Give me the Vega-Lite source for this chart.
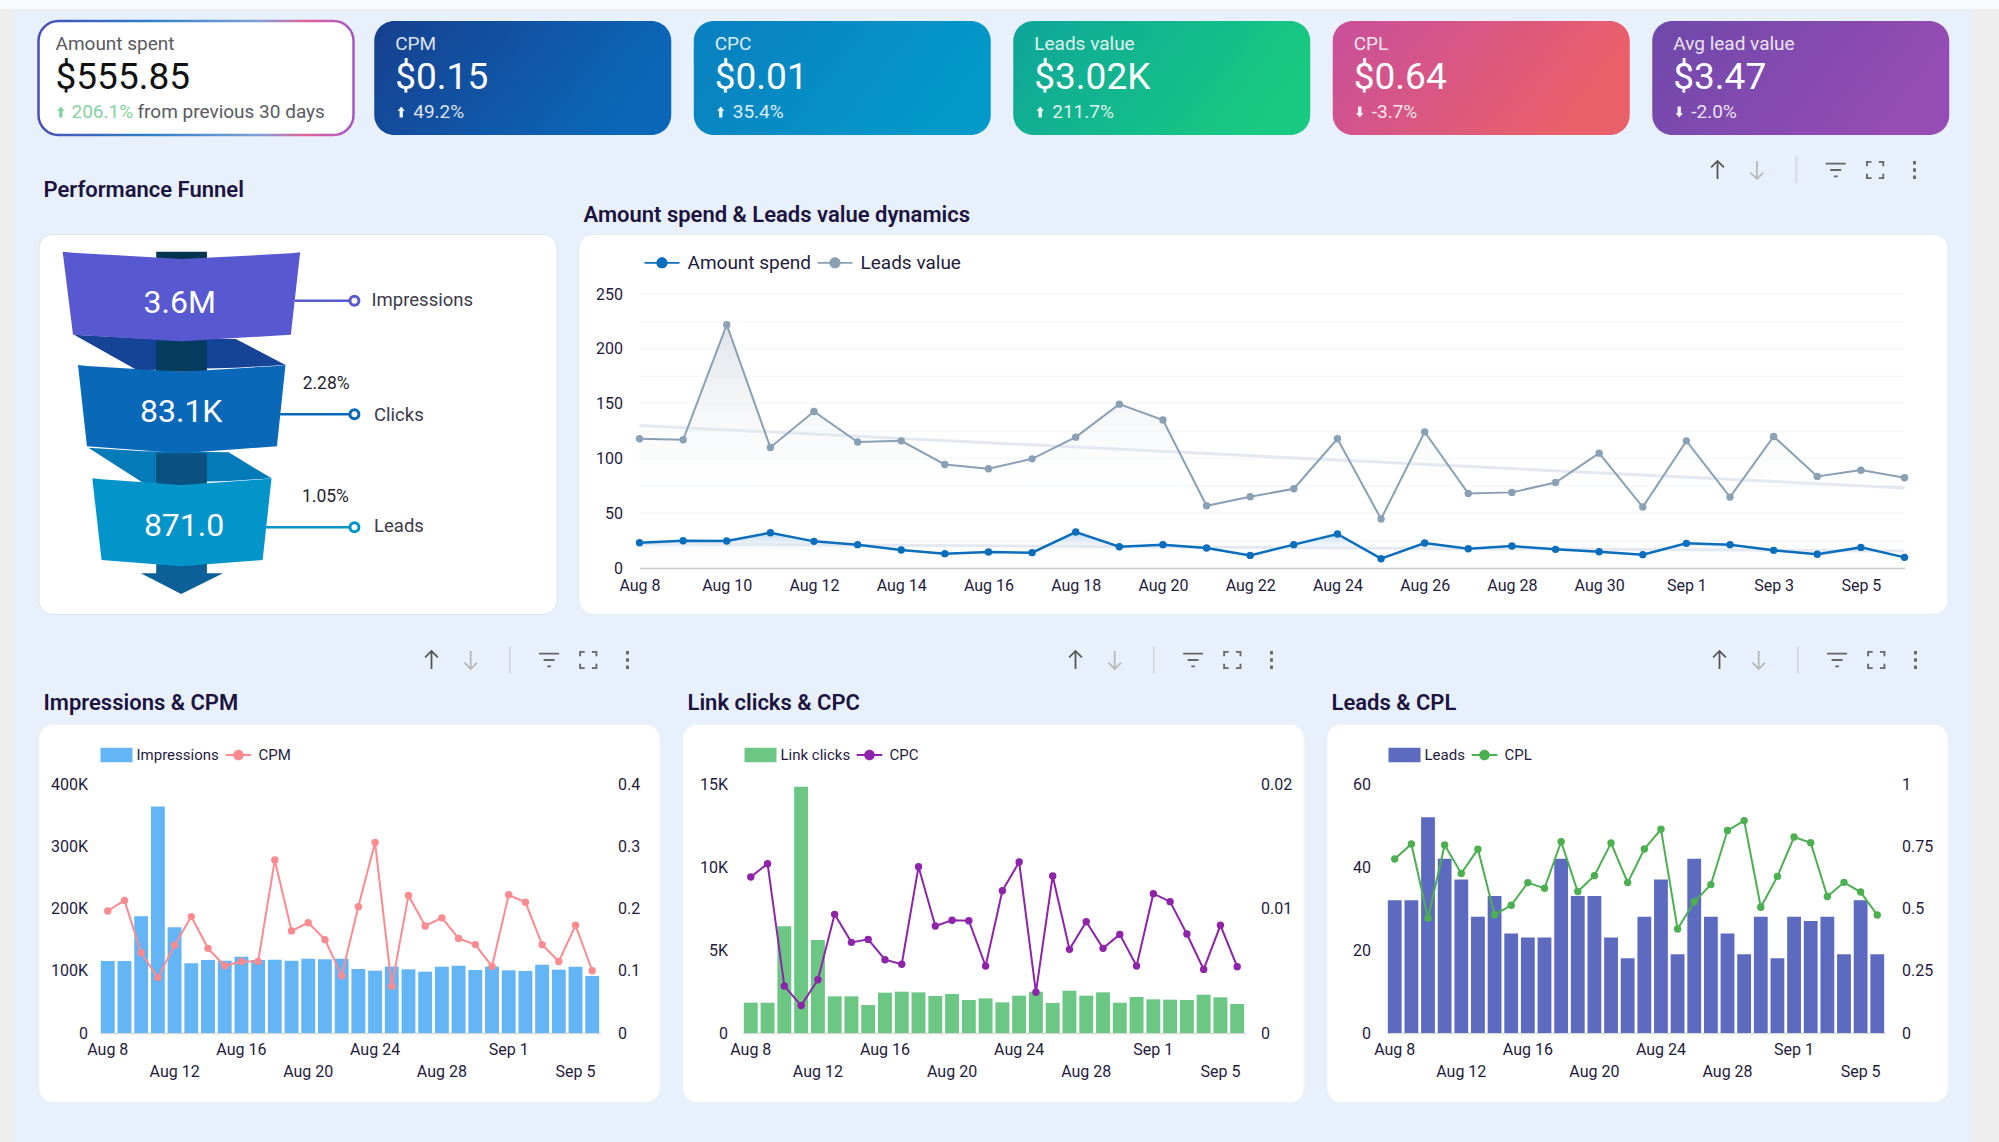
{
  "$schema": "https://vega.github.io/schema/vega-lite/v6.json",
  "padding": 0,
  "autosize": {"type": "pad"},
  "background": "#e8f1fb",
  "config": {
    "font": "Roboto",
    "view": {"stroke": null},
    "axis": {"labelFont": "Roboto", "labelColor": "#1f1b3d", "title": null, "grid": false, "ticks": false, "domain": false},
    "legend": {"labelFont": "Roboto", "labelColor": "#1f1b3d"}
  },
  "datasets": {
    "daily": [
      {"day": "Aug 8", "amount": 23.1, "leads_value": 117.9, "impressions": 115700, "cpm": 0.196, "link_clicks": 1827, "cpc": 0.01253, "leads": 32, "cpl": 0.699},
      {"day": "Aug 9", "amount": 24.9, "leads_value": 117, "impressions": 115700, "cpm": 0.213, "link_clicks": 1827, "cpc": 0.0136, "leads": 32, "cpl": 0.759},
      {"day": "Aug 10", "amount": 24.6, "leads_value": 222, "impressions": 187400, "cpm": 0.129, "link_clicks": 6426, "cpc": 0.00378, "leads": 52, "cpl": 0.461},
      {"day": "Aug 11", "amount": 32.2, "leads_value": 110, "impressions": 364000, "cpm": 0.089, "link_clicks": 14839, "cpc": 0.0022, "leads": 42, "cpl": 0.755},
      {"day": "Aug 12", "amount": 24.3, "leads_value": 142.8, "impressions": 169700, "cpm": 0.141, "link_clicks": 5602, "cpc": 0.00428, "leads": 37, "cpl": 0.641},
      {"day": "Aug 13", "amount": 21.3, "leads_value": 115, "impressions": 112000, "cpm": 0.187, "link_clicks": 2209, "cpc": 0.00953, "leads": 28, "cpl": 0.738},
      {"day": "Aug 14", "amount": 16.4, "leads_value": 116, "impressions": 117300, "cpm": 0.136, "link_clicks": 2209, "cpc": 0.00728, "leads": 33, "cpl": 0.475},
      {"day": "Aug 15", "amount": 13.1, "leads_value": 94.5, "impressions": 116200, "cpm": 0.108, "link_clicks": 1687, "cpc": 0.00752, "leads": 24, "cpl": 0.513},
      {"day": "Aug 16", "amount": 14.6, "leads_value": 90.5, "impressions": 122600, "cpm": 0.115, "link_clicks": 2430, "cpc": 0.00589, "leads": 23, "cpl": 0.604},
      {"day": "Aug 17", "amount": 14, "leads_value": 99.6, "impressions": 117300, "cpm": 0.115, "link_clicks": 2490, "cpc": 0.00552, "leads": 23, "cpl": 0.581},
      {"day": "Aug 18", "amount": 32.8, "leads_value": 119.4, "impressions": 117800, "cpm": 0.278, "link_clicks": 2450, "cpc": 0.01336, "leads": 42, "cpl": 0.768},
      {"day": "Aug 19", "amount": 19.4, "leads_value": 149.5, "impressions": 116200, "cpm": 0.164, "link_clicks": 2229, "cpc": 0.00859, "leads": 33, "cpl": 0.568},
      {"day": "Aug 20", "amount": 21.3, "leads_value": 135, "impressions": 119400, "cpm": 0.177, "link_clicks": 2349, "cpc": 0.00905, "leads": 33, "cpl": 0.632},
      {"day": "Aug 21", "amount": 18.2, "leads_value": 56.8, "impressions": 118300, "cpm": 0.15, "link_clicks": 1988, "cpc": 0.00902, "leads": 23, "cpl": 0.763},
      {"day": "Aug 22", "amount": 11.5, "leads_value": 65, "impressions": 119400, "cpm": 0.092, "link_clicks": 2088, "cpc": 0.00538, "leads": 18, "cpl": 0.604},
      {"day": "Aug 23", "amount": 21.3, "leads_value": 72.3, "impressions": 102800, "cpm": 0.203, "link_clicks": 1847, "cpc": 0.01143, "leads": 28, "cpl": 0.739},
      {"day": "Aug 24", "amount": 31, "leads_value": 117.9, "impressions": 100100, "cpm": 0.306, "link_clicks": 2249, "cpc": 0.01373, "leads": 37, "cpl": 0.818},
      {"day": "Aug 25", "amount": 8.5, "leads_value": 44.7, "impressions": 107000, "cpm": 0.075, "link_clicks": 2490, "cpc": 0.00327, "leads": 19, "cpl": 0.418},
      {"day": "Aug 26", "amount": 22.8, "leads_value": 124.2, "impressions": 102300, "cpm": 0.221, "link_clicks": 1807, "cpc": 0.01261, "leads": 42, "cpl": 0.527},
      {"day": "Aug 27", "amount": 17.6, "leads_value": 68, "impressions": 98500, "cpm": 0.172, "link_clicks": 2550, "cpc": 0.00672, "leads": 28, "cpl": 0.596},
      {"day": "Aug 28", "amount": 20, "leads_value": 69, "impressions": 106500, "cpm": 0.185, "link_clicks": 2249, "cpc": 0.00894, "leads": 24, "cpl": 0.813},
      {"day": "Aug 29", "amount": 17, "leads_value": 78, "impressions": 108000, "cpm": 0.152, "link_clicks": 2450, "cpc": 0.0068, "leads": 19, "cpl": 0.853},
      {"day": "Aug 30", "amount": 14.9, "leads_value": 104.8, "impressions": 101200, "cpm": 0.142, "link_clicks": 1827, "cpc": 0.00792, "leads": 28, "cpl": 0.505},
      {"day": "Aug 31", "amount": 12.2, "leads_value": 55.6, "impressions": 107000, "cpm": 0.107, "link_clicks": 2169, "cpc": 0.00538, "leads": 18, "cpl": 0.629},
      {"day": "Sep 1", "amount": 22.5, "leads_value": 116, "impressions": 100700, "cpm": 0.222, "link_clicks": 2028, "cpc": 0.01119, "leads": 28, "cpl": 0.787},
      {"day": "Sep 2", "amount": 21.3, "leads_value": 64.7, "impressions": 99600, "cpm": 0.21, "link_clicks": 2008, "cpc": 0.01055, "leads": 27, "cpl": 0.764},
      {"day": "Sep 3", "amount": 16.1, "leads_value": 120, "impressions": 109800, "cpm": 0.142, "link_clicks": 1988, "cpc": 0.00795, "leads": 28, "cpl": 0.548},
      {"day": "Sep 4", "amount": 12.5, "leads_value": 83.5, "impressions": 101700, "cpm": 0.115, "link_clicks": 2309, "cpc": 0.00511, "leads": 19, "cpl": 0.605},
      {"day": "Sep 5", "amount": 18.8, "leads_value": 89.3, "impressions": 106500, "cpm": 0.173, "link_clicks": 2149, "cpc": 0.00865, "leads": 32, "cpl": 0.566},
      {"day": "Sep 6", "amount": 9.7, "leads_value": 82.3, "impressions": 91600, "cpm": 0.1, "link_clicks": 1747, "cpc": 0.00533, "leads": 19, "cpl": 0.474}
    ],
    "trend": [
      {"day": "Aug 8", "series": "leads", "v": 130},
      {"day": "Sep 6", "series": "leads", "v": 73},
      {"day": "Aug 8", "series": "amount", "v": 22},
      {"day": "Sep 6", "series": "amount", "v": 15.5}
    ],
    "grid": [
      {"v": 25, "from": "Aug 8", "to": "Sep 6"},
      {"v": 50, "from": "Aug 8", "to": "Sep 6"},
      {"v": 75, "from": "Aug 8", "to": "Sep 6"},
      {"v": 100, "from": "Aug 8", "to": "Sep 6"},
      {"v": 125, "from": "Aug 8", "to": "Sep 6"},
      {"v": 150, "from": "Aug 8", "to": "Sep 6"},
      {"v": 175, "from": "Aug 8", "to": "Sep 6"},
      {"v": 200, "from": "Aug 8", "to": "Sep 6"},
      {"v": 225, "from": "Aug 8", "to": "Sep 6"},
      {"v": 250, "from": "Aug 8", "to": "Sep 6"}
    ],
    "tools": [
      {"icon": "up", "bar": "tools"},
      {"icon": "down", "bar": "tools"},
      {"icon": "sep", "bar": "tools"},
      {"icon": "filter", "bar": "tools"},
      {"icon": "full", "bar": "tools"},
      {"icon": "more", "bar": "tools"}
    ],
    "funnel": [
      {"shape": "conn1", "u": 150, "top": 527, "bottom": 527},
      {"shape": "conn1", "u": 327, "top": 538, "bottom": 634},
      {"shape": "conn1", "u": 603, "top": 540, "bottom": 626},
      {"shape": "conn1", "u": 742, "top": 618, "bottom": 618},
      {"shape": "conn2", "u": 190, "top": 866, "bottom": 866},
      {"shape": "conn2", "u": 345, "top": 877, "bottom": 973},
      {"shape": "conn2", "u": 583, "top": 880, "bottom": 966},
      {"shape": "conn2", "u": 703, "top": 958, "bottom": 958},
      {"shape": "stem0", "u": 380, "top": 278, "bottom": 300},
      {"shape": "stem0", "u": 522, "top": 278, "bottom": 300},
      {"shape": "stem1", "u": 380, "top": 545, "bottom": 638},
      {"shape": "stem1", "u": 522, "top": 545, "bottom": 638},
      {"shape": "stem2", "u": 380, "top": 883, "bottom": 978},
      {"shape": "stem2", "u": 522, "top": 883, "bottom": 978},
      {"shape": "stem3", "u": 380, "top": 1215, "bottom": 1245},
      {"shape": "stem3", "u": 522, "top": 1215, "bottom": 1245},
      {"shape": "arrow", "u": 337, "top": 1243, "bottom": 1243},
      {"shape": "arrow", "u": 450, "top": 1243, "bottom": 1305},
      {"shape": "arrow", "u": 567, "top": 1243, "bottom": 1243},
      {"shape": "Impressions", "u": 118, "top": 278, "bottom": 278},
      {"shape": "Impressions", "u": 147, "top": 281, "bottom": 527},
      {"shape": "Impressions", "u": 450, "top": 300, "bottom": 547},
      {"shape": "Impressions", "u": 757, "top": 283, "bottom": 527},
      {"shape": "Impressions", "u": 783, "top": 280, "bottom": 280},
      {"shape": "Clicks", "u": 161, "top": 618, "bottom": 618},
      {"shape": "Clicks", "u": 186, "top": 621, "bottom": 862},
      {"shape": "Clicks", "u": 450, "top": 638, "bottom": 883},
      {"shape": "Clicks", "u": 718, "top": 621, "bottom": 862},
      {"shape": "Clicks", "u": 742, "top": 618, "bottom": 618},
      {"shape": "Leads", "u": 201, "top": 958, "bottom": 958},
      {"shape": "Leads", "u": 227, "top": 961, "bottom": 1203},
      {"shape": "Leads", "u": 450, "top": 978, "bottom": 1222},
      {"shape": "Leads", "u": 678, "top": 961, "bottom": 1203},
      {"shape": "Leads", "u": 703, "top": 958, "bottom": 958}
    ],
    "funnel_stages": [
      {"shape": "Impressions", "value": "3.6M", "vu": 446, "vv": 432, "line_from": 768, "line_to": 935, "line_v": 425, "name_u": 983, "name_v": 423},
      {"shape": "Clicks", "value": "83.1K", "vu": 450, "vv": 758, "line_from": 727, "line_to": 935, "line_v": 766, "name_u": 990, "name_v": 768},
      {"shape": "Leads", "value": "871.0", "vu": 458, "vv": 1100, "line_from": 687, "line_to": 935, "line_v": 1105, "name_u": 990, "name_v": 1101}
    ],
    "funnel_rates": [
      {"rate": "2.28%", "u": 790, "v": 675},
      {"rate": "1.05%", "u": 788, "v": 1014}
    ]
  },
  "resolve": {"scale": {"color": "independent", "shape": "independent", "size": "independent", "opacity": "independent", "stroke": "independent"}, "legend": {"color": "independent"}},
  "vconcat": [
    {
      "width": 1999,
      "height": 9,
      "view": {"fill": "#f8fafd", "stroke": null},
      "data": {"values": [{"s": ""}]},
      "mark": {"type": "text", "fontSize": 1},
      "encoding": {"text": {"field": "s"}}
    },
    {
      "resolve": {"scale": {"color": "independent", "shape": "independent", "size": "independent", "opacity": "independent", "stroke": "independent"}, "legend": {"color": "independent"}},
      "hconcat": [
        {
          "width": 14,
          "height": 1133,
          "view": {"fill": "#eeeeee", "stroke": null},
          "data": {"values": [{"s": ""}]},
          "mark": {"type": "text", "fontSize": 1},
          "encoding": {"text": {"field": "s"}}
        },
        {
          "resolve": {"scale": {"color": "independent", "shape": "independent", "size": "independent", "opacity": "independent", "stroke": "independent"}, "legend": {"color": "independent"}},
          "vconcat": [
            {
              "width": 1910,
              "height": 10,
              "data": {"values": [{"s": ""}]},
              "mark": {"type": "text", "fontSize": 1},
              "encoding": {"text": {"field": "s"}}
            },
            {
              "resolve": {"scale": {"color": "independent", "shape": "independent", "size": "independent", "opacity": "independent", "stroke": "independent"}, "legend": {"color": "independent"}},
              "hconcat": [
                {
                  "width": 315,
                  "height": 114,
                  "view": {
                    "fill": "#ffffff",
                    "cornerRadius": 20,
                    "strokeWidth": 2.5,
                    "stroke": {"gradient": "linear", "x1": 0, "y1": 0, "x2": 1, "y2": 0, "stops": [{"offset": 0, "color": "#4a4fb8"}, {"offset": 0.35, "color": "#2d7fc6"}, {"offset": 0.7, "color": "#7fa0d8"}, {"offset": 0.85, "color": "#e2609a"}, {"offset": 1, "color": "#a855c8"}]}
                  },
                  "data": {"values": [{"line": "label", "col": "a", "txt": "Amount spent"}, {"line": "value", "col": "a", "txt": "$555.85"}, {"line": "delta", "col": "b", "txt": "206.1%"}]},
                  "encoding": {
                    "x": {"field": "col", "type": "nominal", "axis": null, "scale": {"type": "point", "padding": 0, "domain": ["a", "arrow", "_", "b"], "range": [17, 33]}},
                    "y": {"field": "line", "type": "nominal", "axis": null, "scale": {"type": "point", "padding": 0, "domain": ["label", "value", "delta"], "range": [23, 91]}}
                  },
                  "layer": [
                    {
                      "transform": [{"filter": "datum.line == 'label'"}],
                      "mark": {"type": "text", "align": "left", "baseline": "middle", "fontSize": 19, "color": "#5a5a5f"},
                      "encoding": {"text": {"field": "txt"}}
                    },
                    {
                      "transform": [{"filter": "datum.line == 'value'"}],
                      "mark": {"type": "text", "align": "left", "baseline": "middle", "fontSize": 37, "color": "#111111"},
                      "encoding": {"text": {"field": "txt"}}
                    },
                    {
                      "transform": [{"filter": "datum.line == 'delta'"}],
                      "mark": {"type": "text", "align": "left", "baseline": "middle", "fontSize": 19, "color": "#84d39d"},
                      "encoding": {"text": {"field": "txt"}}
                    },
                    {
                      "data": {"values": [{"line": "delta", "col": "b", "txt": "from previous 30 days"}]},
                      "mark": {"type": "text", "align": "left", "baseline": "middle", "fontSize": 19, "dx": 66, "color": "#5a5a5f"},
                      "encoding": {"text": {"field": "txt"}}
                    },
                    {
                      "data": {"values": [{"line": "delta", "col": "arrow"}]},
                      "mark": {"type": "point", "filled": true, "opacity": 1, "color": "#84d39d", "size": 121, "shape": "M0,-1L0.65,-0.2H0.3V1H-0.3V-0.2H-0.65Z"}
                    }
                  ]
                },
                {
                  "resolve": {"scale": {"color": "independent", "shape": "independent", "size": "independent", "opacity": "independent", "stroke": "independent"}, "legend": {"color": "independent"}},
                  "hconcat": [
                    {
                      "width": 297,
                      "height": 114,
                      "view": {"cornerRadius": 20, "stroke": null, "fill": {"gradient": "linear", "x1": 0, "y1": 0, "x2": 1, "y2": 0.3, "stops": [{"offset": 0, "color": "#17408f"}, {"offset": 1, "color": "#0b67b8"}]}},
                      "data": {"values": [{"line": "label", "col": "a", "txt": "CPM"}, {"line": "value", "col": "a", "txt": "$0.15"}, {"line": "delta", "col": "b", "txt": "49.2%"}]},
                      "encoding": {
                        "x": {"field": "col", "type": "nominal", "axis": null, "scale": {"type": "point", "padding": 0, "domain": ["a", "arrow", "_", "b"], "range": [21, 39]}},
                        "y": {"field": "line", "type": "nominal", "axis": null, "scale": {"type": "point", "padding": 0, "domain": ["label", "value", "delta"], "range": [23, 91]}}
                      },
                      "layer": [
                        {
                          "mark": {"type": "text", "align": "left", "baseline": "middle", "color": "#ffffff"},
                          "encoding": {"text": {"field": "txt"}, "size": {"field": "line", "type": "ordinal", "legend": null, "scale": {"type": "ordinal", "domain": ["label", "value", "delta"], "range": [19, 37, 19]}}, "opacity": {"field": "line", "type": "ordinal", "legend": null, "scale": {"type": "ordinal", "domain": ["label", "value", "delta"], "range": [0.85, 1, 0.85]}}}
                        },
                        {
                          "data": {"values": [{"line": "delta", "col": "arrow"}]},
                          "mark": {"type": "point", "filled": true, "opacity": 0.95, "color": "#ffffff", "size": 121, "shape": "M0,-1L0.65,-0.2H0.3V1H-0.3V-0.2H-0.65Z"}
                        }
                      ]
                    },
                    {
                      "width": 297,
                      "height": 114,
                      "view": {"cornerRadius": 20, "stroke": null, "fill": {"gradient": "linear", "x1": 0, "y1": 0, "x2": 1, "y2": 0.3, "stops": [{"offset": 0, "color": "#0a7fbf"}, {"offset": 1, "color": "#0399c9"}]}},
                      "data": {"values": [{"line": "label", "col": "a", "txt": "CPC"}, {"line": "value", "col": "a", "txt": "$0.01"}, {"line": "delta", "col": "b", "txt": "35.4%"}]},
                      "encoding": {
                        "x": {"field": "col", "type": "nominal", "axis": null, "scale": {"type": "point", "padding": 0, "domain": ["a", "arrow", "_", "b"], "range": [21, 39]}},
                        "y": {"field": "line", "type": "nominal", "axis": null, "scale": {"type": "point", "padding": 0, "domain": ["label", "value", "delta"], "range": [23, 91]}}
                      },
                      "layer": [
                        {
                          "mark": {"type": "text", "align": "left", "baseline": "middle", "color": "#ffffff"},
                          "encoding": {"text": {"field": "txt"}, "size": {"field": "line", "type": "ordinal", "legend": null, "scale": {"type": "ordinal", "domain": ["label", "value", "delta"], "range": [19, 37, 19]}}, "opacity": {"field": "line", "type": "ordinal", "legend": null, "scale": {"type": "ordinal", "domain": ["label", "value", "delta"], "range": [0.85, 1, 0.85]}}}
                        },
                        {
                          "data": {"values": [{"line": "delta", "col": "arrow"}]},
                          "mark": {"type": "point", "filled": true, "opacity": 0.95, "color": "#ffffff", "size": 121, "shape": "M0,-1L0.65,-0.2H0.3V1H-0.3V-0.2H-0.65Z"}
                        }
                      ]
                    },
                    {
                      "width": 297,
                      "height": 114,
                      "view": {"cornerRadius": 20, "stroke": null, "fill": {"gradient": "linear", "x1": 0, "y1": 0, "x2": 1, "y2": 0.3, "stops": [{"offset": 0, "color": "#0ea59a"}, {"offset": 1, "color": "#18c981"}]}},
                      "data": {"values": [{"line": "label", "col": "a", "txt": "Leads value"}, {"line": "value", "col": "a", "txt": "$3.02K"}, {"line": "delta", "col": "b", "txt": "211.7%"}]},
                      "encoding": {
                        "x": {"field": "col", "type": "nominal", "axis": null, "scale": {"type": "point", "padding": 0, "domain": ["a", "arrow", "_", "b"], "range": [21, 39]}},
                        "y": {"field": "line", "type": "nominal", "axis": null, "scale": {"type": "point", "padding": 0, "domain": ["label", "value", "delta"], "range": [23, 91]}}
                      },
                      "layer": [
                        {
                          "mark": {"type": "text", "align": "left", "baseline": "middle", "color": "#ffffff"},
                          "encoding": {"text": {"field": "txt"}, "size": {"field": "line", "type": "ordinal", "legend": null, "scale": {"type": "ordinal", "domain": ["label", "value", "delta"], "range": [19, 37, 19]}}, "opacity": {"field": "line", "type": "ordinal", "legend": null, "scale": {"type": "ordinal", "domain": ["label", "value", "delta"], "range": [0.85, 1, 0.85]}}}
                        },
                        {
                          "data": {"values": [{"line": "delta", "col": "arrow"}]},
                          "mark": {"type": "point", "filled": true, "opacity": 0.95, "color": "#ffffff", "size": 121, "shape": "M0,-1L0.65,-0.2H0.3V1H-0.3V-0.2H-0.65Z"}
                        }
                      ]
                    },
                    {
                      "width": 297,
                      "height": 114,
                      "view": {"cornerRadius": 20, "stroke": null, "fill": {"gradient": "linear", "x1": 0, "y1": 0, "x2": 1, "y2": 0.3, "stops": [{"offset": 0, "color": "#c94f9c"}, {"offset": 1, "color": "#ea6068"}]}},
                      "data": {"values": [{"line": "label", "col": "a", "txt": "CPL"}, {"line": "value", "col": "a", "txt": "$0.64"}, {"line": "delta", "col": "b", "txt": "-3.7%"}]},
                      "encoding": {
                        "x": {"field": "col", "type": "nominal", "axis": null, "scale": {"type": "point", "padding": 0, "domain": ["a", "arrow", "_", "b"], "range": [21, 39]}},
                        "y": {"field": "line", "type": "nominal", "axis": null, "scale": {"type": "point", "padding": 0, "domain": ["label", "value", "delta"], "range": [23, 91]}}
                      },
                      "layer": [
                        {
                          "mark": {"type": "text", "align": "left", "baseline": "middle", "color": "#ffffff"},
                          "encoding": {"text": {"field": "txt"}, "size": {"field": "line", "type": "ordinal", "legend": null, "scale": {"type": "ordinal", "domain": ["label", "value", "delta"], "range": [19, 37, 19]}}, "opacity": {"field": "line", "type": "ordinal", "legend": null, "scale": {"type": "ordinal", "domain": ["label", "value", "delta"], "range": [0.85, 1, 0.85]}}}
                        },
                        {
                          "data": {"values": [{"line": "delta", "col": "arrow"}]},
                          "mark": {"type": "point", "filled": true, "opacity": 0.95, "color": "#ffffff", "size": 121, "shape": "M0,1L0.65,0.2H0.3V-1H-0.3V0.2H-0.65Z"}
                        }
                      ]
                    },
                    {
                      "width": 297,
                      "height": 114,
                      "view": {"cornerRadius": 20, "stroke": null, "fill": {"gradient": "linear", "x1": 0, "y1": 0, "x2": 1, "y2": 0.3, "stops": [{"offset": 0, "color": "#6f48aa"}, {"offset": 1, "color": "#964cb5"}]}},
                      "data": {"values": [{"line": "label", "col": "a", "txt": "Avg lead value"}, {"line": "value", "col": "a", "txt": "$3.47"}, {"line": "delta", "col": "b", "txt": "-2.0%"}]},
                      "encoding": {
                        "x": {"field": "col", "type": "nominal", "axis": null, "scale": {"type": "point", "padding": 0, "domain": ["a", "arrow", "_", "b"], "range": [21, 39]}},
                        "y": {"field": "line", "type": "nominal", "axis": null, "scale": {"type": "point", "padding": 0, "domain": ["label", "value", "delta"], "range": [23, 91]}}
                      },
                      "layer": [
                        {
                          "mark": {"type": "text", "align": "left", "baseline": "middle", "color": "#ffffff"},
                          "encoding": {"text": {"field": "txt"}, "size": {"field": "line", "type": "ordinal", "legend": null, "scale": {"type": "ordinal", "domain": ["label", "value", "delta"], "range": [19, 37, 19]}}, "opacity": {"field": "line", "type": "ordinal", "legend": null, "scale": {"type": "ordinal", "domain": ["label", "value", "delta"], "range": [0.85, 1, 0.85]}}}
                        },
                        {
                          "data": {"values": [{"line": "delta", "col": "arrow"}]},
                          "mark": {"type": "point", "filled": true, "opacity": 0.95, "color": "#ffffff", "size": 121, "shape": "M0,1L0.65,0.2H0.3V-1H-0.3V0.2H-0.65Z"}
                        }
                      ]
                    }
                  ],
                  "spacing": 22.5
                }
              ],
              "spacing": 18.75
            },
            {
              "resolve": {"scale": {"color": "independent", "shape": "independent", "size": "independent", "opacity": "independent", "stroke": "independent"}, "legend": {"color": "independent"}},
              "hconcat": [
                {
                  "width": 518,
                  "height": 96,
                  "data": {"values": [{"t": "Performance Funnel"}]},
                  "mark": {"type": "text", "align": "left", "baseline": "middle", "fontSize": 22, "fontWeight": 600, "color": "#1c1340"},
                  "encoding": {
                    "x": {"field": "t", "type": "nominal", "axis": null, "scale": {"type": "point", "range": [5, 5]}},
                    "y": {"field": "t", "type": "nominal", "axis": null, "scale": {"type": "point", "range": [53, 53]}},
                    "text": {"field": "t"}
                  }
                },
                {
                  "width": 1369,
                  "height": 96,
                  "layer": [
                    {
                      "data": {"values": [{"t": "Amount spend & Leads value dynamics"}]},
                      "mark": {"type": "text", "align": "left", "baseline": "middle", "fontSize": 22, "fontWeight": 600, "color": "#1c1340"},
                      "encoding": {
                        "x": {"field": "t", "type": "nominal", "axis": null, "scale": {"type": "point", "range": [7, 7]}},
                        "y": {"field": "t", "type": "nominal", "axis": null, "scale": {"type": "point", "range": [78, 78]}},
                        "text": {"field": "t"}
                      }
                    },
                    {
                      "data": {"name": "tools"},
                      "mark": {"type": "point", "filled": false, "strokeWidth": 1.8, "size": 330, "opacity": 1},
                      "encoding": {
                        "x": {"field": "icon", "type": "nominal", "axis": null, "scale": {"type": "point", "padding": 0, "domain": ["up", "down", "sep", "filter", "full", "more"], "range": [1141, 1338]}},
                        "y": {"field": "bar", "type": "nominal", "axis": null, "scale": {"type": "point", "range": [33, 33]}},
                        "shape": {"field": "icon", "type": "nominal", "legend": null, "scale": {"domain": ["up", "down", "sep", "filter", "full", "more"], "range": ["M0,1V-1M-0.7,-0.3L0,-1L0.7,-0.3", "M0,-1V1M-0.7,0.3L0,1L0.7,0.3", "M0,-1.5V1.5", "M-1.1,-0.7H1.1M-0.6,0H0.6M-0.2,0.7H0.2", "M-0.9,-0.4V-0.9H-0.4M0.4,-0.9H0.9V-0.4M0.9,0.4V0.9H0.4M-0.4,0.9H-0.9V0.4", "M-0.06,-0.9H0.06V-0.7H-0.06ZM-0.06,-0.1H0.06V0.1H-0.06ZM-0.06,0.7H0.06V0.9H-0.06Z"]}},
                        "color": {"field": "icon", "type": "nominal", "legend": null, "scale": {"domain": ["up", "down", "sep", "filter", "full", "more"], "range": ["#555555", "#b8b8b8", "#d4d8de", "#666666", "#666666", "#666666"]}}
                      }
                    }
                  ],
                  "resolve": {"scale": {"x": "independent", "y": "independent"}}
                }
              ],
              "spacing": 20
            },
            {
              "resolve": {"scale": {"color": "independent", "shape": "independent", "size": "independent", "opacity": "independent", "stroke": "independent"}, "legend": {"color": "independent"}},
              "hconcat": [
                {
                  "width": 518,
                  "height": 380,
                  "view": {"fill": "#ffffff", "stroke": "#d9e6f4", "cornerRadius": 14},
                  "layer": [
                    {
                      "data": {"name": "funnel"},
                      "mark": {"type": "area", "interpolate": "linear"},
                      "encoding": {
                        "x": {"field": "u", "type": "quantitative", "axis": null, "scale": {"domain": [0, 1568], "range": [-18, 542], "nice": false, "zero": false}},
                        "y": {"field": "top", "type": "quantitative", "axis": null, "stack": null, "scale": {"domain": [0, 1410], "range": [-75, 395], "nice": false, "zero": false}},
                        "y2": {"field": "bottom"},
                        "color": {"field": "shape", "type": "nominal", "legend": null, "sort": null, "scale": {"domain": ["conn1", "conn2", "stem0", "stem1", "stem2", "stem3", "arrow", "Impressions", "Clicks", "Leads"], "range": ["#154395", "#047ab9", "#04354f", "#063c60", "#0a5080", "#0b6098", "#0b6098", "#5859d1", "#0a68b9", "#0395c9"]}}
                      }
                    },
                    {
                      "data": {"name": "funnel_stages"},
                      "mark": {"type": "rule", "strokeWidth": 2.5},
                      "encoding": {
                        "x": {"field": "line_from", "type": "quantitative"},
                        "x2": {"field": "line_to"},
                        "y": {"field": "line_v", "type": "quantitative"},
                        "color": {"field": "shape", "type": "nominal", "legend": null}
                      }
                    },
                    {
                      "data": {"name": "funnel_stages"},
                      "mark": {"type": "point", "filled": true, "fill": "#ffffff", "strokeWidth": 3, "size": 80, "opacity": 1},
                      "encoding": {
                        "x": {"field": "line_to", "type": "quantitative"},
                        "y": {"field": "line_v", "type": "quantitative"},
                        "stroke": {"field": "shape", "type": "nominal", "legend": null, "scale": {"domain": ["Impressions", "Clicks", "Leads"], "range": ["#5859d1", "#0a68b9", "#0395c9"]}}
                      }
                    },
                    {
                      "data": {"name": "funnel_stages"},
                      "mark": {"type": "text", "fontSize": 32, "color": "#ffffff", "baseline": "middle"},
                      "encoding": {
                        "x": {"field": "vu", "type": "quantitative"},
                        "y": {"field": "vv", "type": "quantitative"},
                        "text": {"field": "value"}
                      }
                    },
                    {
                      "data": {"name": "funnel_stages"},
                      "mark": {"type": "text", "fontSize": 18.5, "color": "#3a3a4a", "align": "left", "baseline": "middle"},
                      "encoding": {
                        "x": {"field": "name_u", "type": "quantitative"},
                        "y": {"field": "name_v", "type": "quantitative"},
                        "text": {"field": "shape"}
                      }
                    },
                    {
                      "data": {"name": "funnel_rates"},
                      "mark": {"type": "text", "fontSize": 17.5, "color": "#26262e", "align": "left", "baseline": "middle"},
                      "encoding": {
                        "x": {"field": "u", "type": "quantitative"},
                        "y": {"field": "v", "type": "quantitative"},
                        "text": {"field": "rate"}
                      }
                    }
                  ]
                },
                {
                  "width": 1369,
                  "height": 380,
                  "view": {"fill": "#ffffff", "stroke": "#e3edf8", "cornerRadius": 14},
                  "layer": [
                    {
                      "data": {"name": "grid"},
                      "mark": {"type": "rule", "color": "#f6f7f8", "strokeWidth": 1.5},
                      "encoding": {
                        "x": {"field": "from", "type": "ordinal", "scale": {"type": "point", "padding": 0, "range": [61, 1326], "domain": ["Aug 8", "Aug 9", "Aug 10", "Aug 11", "Aug 12", "Aug 13", "Aug 14", "Aug 15", "Aug 16", "Aug 17", "Aug 18", "Aug 19", "Aug 20", "Aug 21", "Aug 22", "Aug 23", "Aug 24", "Aug 25", "Aug 26", "Aug 27", "Aug 28", "Aug 29", "Aug 30", "Aug 31", "Sep 1", "Sep 2", "Sep 3", "Sep 4", "Sep 5", "Sep 6"]}, "axis": {"values": ["Aug 8", "Aug 10", "Aug 12", "Aug 14", "Aug 16", "Aug 18", "Aug 20", "Aug 22", "Aug 24", "Aug 26", "Aug 28", "Aug 30", "Sep 1", "Sep 3", "Sep 5"], "offset": -46, "domain": true, "domainColor": "#c9c9c9", "domainWidth": 1.5, "labelAngle": 0, "labelFontSize": 16, "labelPadding": 9, "labelOverlap": false}},
                        "x2": {"field": "to"},
                        "y": {"field": "v", "type": "quantitative", "scale": {"domain": [0, 250], "range": [334, 60], "nice": false}, "axis": {"values": [0, 50, 100, 150, 200, 250], "offset": -44, "labelPadding": 0, "labelFontSize": 16}}
                      }
                    },
                    {
                      "data": {"name": "daily"},
                      "mark": {"type": "area", "color": {"gradient": "linear", "x1": 0, "y1": 0, "x2": 0, "y2": 1, "stops": [{"offset": 0, "color": "#dfe3e9"}, {"offset": 0.8, "color": "#ffffff00"}]}},
                      "encoding": {
                        "x": {"field": "day", "type": "ordinal"},
                        "y": {"field": "leads_value", "type": "quantitative"}
                      }
                    },
                    {
                      "data": {"name": "daily"},
                      "mark": {"type": "area", "color": {"gradient": "linear", "x1": 0, "y1": 0, "x2": 0, "y2": 1, "stops": [{"offset": 0, "color": "#bcd5ee"}, {"offset": 0.68, "color": "#ffffff00"}]}},
                      "encoding": {
                        "x": {"field": "day", "type": "ordinal"},
                        "y": {"field": "amount", "type": "quantitative"}
                      }
                    },
                    {
                      "data": {"name": "trend"},
                      "mark": {"type": "line", "color": "#e4e9f1", "strokeWidth": 3},
                      "encoding": {
                        "x": {"field": "day", "type": "ordinal"},
                        "y": {"field": "v", "type": "quantitative"},
                        "detail": {"field": "series"}
                      }
                    },
                    {
                      "data": {"name": "daily"},
                      "mark": {"type": "line", "strokeWidth": 2, "point": {"filled": true, "size": 55}},
                      "encoding": {
                        "x": {"field": "day", "type": "ordinal"},
                        "y": {"field": "leads_value", "type": "quantitative"},
                        "color": {
                          "datum": "Leads value",
                          "type": "nominal",
                          "scale": {"domain": ["Amount spend", "Leads value"], "range": ["#0a6ebd", "#8aa0b4"]},
                          "legend": {"title": null, "orient": "none", "direction": "horizontal", "legendX": 66, "legendY": 11, "labelFontSize": 19, "symbolSize": 1225, "symbolStrokeWidth": 0, "labelOffset": 8, "columnPadding": 6, "symbolType": "M-1,-0.05H1V0.05H-1ZM0.32,0A0.32,0.32 0 1,1 -0.32,0A0.32,0.32 0 1,1 0.32,0Z", "encoding": {"symbols": {"fill": {"signal": "datum.value == 'Amount spend' ? '#0a6ebd' : '#8aa0b4'"}, "opacity": {"value": 1}}}}
                        }
                      }
                    },
                    {
                      "data": {"name": "daily"},
                      "mark": {"type": "line", "strokeWidth": 2.5, "point": {"filled": true, "size": 55}},
                      "encoding": {
                        "x": {"field": "day", "type": "ordinal"},
                        "y": {"field": "amount", "type": "quantitative"},
                        "color": {"datum": "Amount spend", "type": "nominal"}
                      }
                    }
                  ]
                }
              ],
              "spacing": 20
            },
            {
              "resolve": {"scale": {"color": "independent", "shape": "independent", "size": "independent", "opacity": "independent", "stroke": "independent"}, "legend": {"color": "independent"}},
              "hconcat": [
                {
                  "width": 621,
                  "height": 108,
                  "layer": [
                    {
                      "data": {"values": [{"t": "Impressions & CPM"}]},
                      "mark": {"type": "text", "align": "left", "baseline": "middle", "fontSize": 22, "fontWeight": 600, "color": "#1c1340"},
                      "encoding": {
                        "x": {"field": "t", "type": "nominal", "axis": null, "scale": {"type": "point", "range": [5, 5]}},
                        "y": {"field": "t", "type": "nominal", "axis": null, "scale": {"type": "point", "range": [88, 88]}},
                        "text": {"field": "t"}
                      }
                    },
                    {
                      "data": {"name": "tools"},
                      "mark": {"type": "point", "filled": false, "strokeWidth": 1.8, "size": 330, "opacity": 1},
                      "encoding": {
                        "x": {"field": "icon", "type": "nominal", "axis": null, "scale": {"type": "point", "padding": 0, "domain": ["up", "down", "sep", "filter", "full", "more"], "range": [393, 589]}},
                        "y": {"field": "bar", "type": "nominal", "axis": null, "scale": {"type": "point", "range": [45, 45]}},
                        "shape": {"field": "icon", "type": "nominal", "legend": null, "scale": {"domain": ["up", "down", "sep", "filter", "full", "more"], "range": ["M0,1V-1M-0.7,-0.3L0,-1L0.7,-0.3", "M0,-1V1M-0.7,0.3L0,1L0.7,0.3", "M0,-1.5V1.5", "M-1.1,-0.7H1.1M-0.6,0H0.6M-0.2,0.7H0.2", "M-0.9,-0.4V-0.9H-0.4M0.4,-0.9H0.9V-0.4M0.9,0.4V0.9H0.4M-0.4,0.9H-0.9V0.4", "M-0.06,-0.9H0.06V-0.7H-0.06ZM-0.06,-0.1H0.06V0.1H-0.06ZM-0.06,0.7H0.06V0.9H-0.06Z"]}},
                        "color": {"field": "icon", "type": "nominal", "legend": null, "scale": {"domain": ["up", "down", "sep", "filter", "full", "more"], "range": ["#555555", "#b8b8b8", "#d4d8de", "#666666", "#666666", "#666666"]}}
                      }
                    }
                  ],
                  "resolve": {"scale": {"x": "independent", "y": "independent"}}
                },
                {
                  "width": 621,
                  "height": 108,
                  "layer": [
                    {
                      "data": {"values": [{"t": "Link clicks & CPC"}]},
                      "mark": {"type": "text", "align": "left", "baseline": "middle", "fontSize": 22, "fontWeight": 600, "color": "#1c1340"},
                      "encoding": {
                        "x": {"field": "t", "type": "nominal", "axis": null, "scale": {"type": "point", "range": [5, 5]}},
                        "y": {"field": "t", "type": "nominal", "axis": null, "scale": {"type": "point", "range": [88, 88]}},
                        "text": {"field": "t"}
                      }
                    },
                    {
                      "data": {"name": "tools"},
                      "mark": {"type": "point", "filled": false, "strokeWidth": 1.8, "size": 330, "opacity": 1},
                      "encoding": {
                        "x": {"field": "icon", "type": "nominal", "axis": null, "scale": {"type": "point", "padding": 0, "domain": ["up", "down", "sep", "filter", "full", "more"], "range": [393, 589]}},
                        "y": {"field": "bar", "type": "nominal", "axis": null, "scale": {"type": "point", "range": [45, 45]}},
                        "shape": {"field": "icon", "type": "nominal", "legend": null, "scale": {"domain": ["up", "down", "sep", "filter", "full", "more"], "range": ["M0,1V-1M-0.7,-0.3L0,-1L0.7,-0.3", "M0,-1V1M-0.7,0.3L0,1L0.7,0.3", "M0,-1.5V1.5", "M-1.1,-0.7H1.1M-0.6,0H0.6M-0.2,0.7H0.2", "M-0.9,-0.4V-0.9H-0.4M0.4,-0.9H0.9V-0.4M0.9,0.4V0.9H0.4M-0.4,0.9H-0.9V0.4", "M-0.06,-0.9H0.06V-0.7H-0.06ZM-0.06,-0.1H0.06V0.1H-0.06ZM-0.06,0.7H0.06V0.9H-0.06Z"]}},
                        "color": {"field": "icon", "type": "nominal", "legend": null, "scale": {"domain": ["up", "down", "sep", "filter", "full", "more"], "range": ["#555555", "#b8b8b8", "#d4d8de", "#666666", "#666666", "#666666"]}}
                      }
                    }
                  ],
                  "resolve": {"scale": {"x": "independent", "y": "independent"}}
                },
                {
                  "width": 621,
                  "height": 108,
                  "layer": [
                    {
                      "data": {"values": [{"t": "Leads & CPL"}]},
                      "mark": {"type": "text", "align": "left", "baseline": "middle", "fontSize": 22, "fontWeight": 600, "color": "#1c1340"},
                      "encoding": {
                        "x": {"field": "t", "type": "nominal", "axis": null, "scale": {"type": "point", "range": [5, 5]}},
                        "y": {"field": "t", "type": "nominal", "axis": null, "scale": {"type": "point", "range": [88, 88]}},
                        "text": {"field": "t"}
                      }
                    },
                    {
                      "data": {"name": "tools"},
                      "mark": {"type": "point", "filled": false, "strokeWidth": 1.8, "size": 330, "opacity": 1},
                      "encoding": {
                        "x": {"field": "icon", "type": "nominal", "axis": null, "scale": {"type": "point", "padding": 0, "domain": ["up", "down", "sep", "filter", "full", "more"], "range": [393, 589]}},
                        "y": {"field": "bar", "type": "nominal", "axis": null, "scale": {"type": "point", "range": [45, 45]}},
                        "shape": {"field": "icon", "type": "nominal", "legend": null, "scale": {"domain": ["up", "down", "sep", "filter", "full", "more"], "range": ["M0,1V-1M-0.7,-0.3L0,-1L0.7,-0.3", "M0,-1V1M-0.7,0.3L0,1L0.7,0.3", "M0,-1.5V1.5", "M-1.1,-0.7H1.1M-0.6,0H0.6M-0.2,0.7H0.2", "M-0.9,-0.4V-0.9H-0.4M0.4,-0.9H0.9V-0.4M0.9,0.4V0.9H0.4M-0.4,0.9H-0.9V0.4", "M-0.06,-0.9H0.06V-0.7H-0.06ZM-0.06,-0.1H0.06V0.1H-0.06ZM-0.06,0.7H0.06V0.9H-0.06Z"]}},
                        "color": {"field": "icon", "type": "nominal", "legend": null, "scale": {"domain": ["up", "down", "sep", "filter", "full", "more"], "range": ["#555555", "#b8b8b8", "#d4d8de", "#666666", "#666666", "#666666"]}}
                      }
                    }
                  ],
                  "resolve": {"scale": {"x": "independent", "y": "independent"}}
                }
              ],
              "spacing": 23
            },
            {
              "resolve": {"scale": {"color": "independent", "shape": "independent", "size": "independent", "opacity": "independent", "stroke": "independent"}, "legend": {"color": "independent"}},
              "hconcat": [
                {
                  "width": 621,
                  "height": 378,
                  "view": {"fill": "#ffffff", "stroke": "#eef3fa", "cornerRadius": 14},
                  "data": {"name": "daily"},
                  "layer": [
                    {
                      "mark": {"type": "bar", "color": "#64b5f6"},
                      "encoding": {
                        "x": {"field": "day", "type": "ordinal", "scale": {"type": "band", "range": [61, 562], "paddingInner": 0.17, "paddingOuter": 0.08, "domain": ["Aug 8", "Aug 9", "Aug 10", "Aug 11", "Aug 12", "Aug 13", "Aug 14", "Aug 15", "Aug 16", "Aug 17", "Aug 18", "Aug 19", "Aug 20", "Aug 21", "Aug 22", "Aug 23", "Aug 24", "Aug 25", "Aug 26", "Aug 27", "Aug 28", "Aug 29", "Aug 30", "Aug 31", "Sep 1", "Sep 2", "Sep 3", "Sep 4", "Sep 5", "Sep 6"]}, "axis": {"values": ["Aug 8", "Aug 12", "Aug 16", "Aug 20", "Aug 24", "Aug 28", "Sep 1", "Sep 5"], "labelExpr": "indexof(['Aug 12', 'Aug 20', 'Aug 28', 'Sep 5'], datum.label) >= 0 ? ['', datum.label] : datum.label", "labelLineHeight": 22, "offset": -69, "domain": true, "domainColor": "#d9d9d9", "domainWidth": 1.5, "labelAngle": 0, "labelFontSize": 16, "labelPadding": 8, "labelOverlap": false}},
                        "y": {"field": "impressions", "type": "quantitative", "scale": {"domain": [0, 400000], "range": [309, 60], "nice": false}, "axis": {"values": [0, 100000, 200000, 300000, 400000], "labelExpr": "datum.value == 0 ? '0' : datum.value / 1000 + 'K'", "offset": -49, "labelPadding": 0, "labelFontSize": 16}}
                      }
                    },
                    {
                      "mark": {"type": "line", "strokeWidth": 2, "color": "#fb8a91", "point": {"filled": true, "size": 55, "color": "#fb8a91"}},
                      "encoding": {
                        "x": {"field": "day", "type": "ordinal"},
                        "y": {"field": "cpm", "type": "quantitative", "scale": {"domain": [0, 0.4], "range": [309, 60], "nice": false}, "axis": {"orient": "right", "values": [0, 0.1, 0.2, 0.3, 0.4], "labelExpr": "'' + datum.value", "offset": -42, "labelPadding": 0, "labelFontSize": 16}}
                      }
                    },
                    {
                      "data": {"values": [{"series": "Impressions"}, {"series": "CPM"}]},
                      "mark": {"type": "point", "filled": true, "opacity": 0},
                      "encoding": {
                        "color": {"field": "series", "type": "nominal", "scale": {"domain": ["Impressions", "CPM"], "range": ["#64b5f6", "#fb8a91"]}, "legend": {"title": null, "orient": "none", "direction": "horizontal", "legendX": 62, "legendY": 15, "labelFontSize": 15, "symbolSize": 1024, "symbolStrokeWidth": 0, "symbolOpacity": 1, "labelOffset": 4, "columnPadding": 3}},
                        "shape": {"field": "series", "type": "nominal", "scale": {"domain": ["Impressions", "CPM"], "range": ["M-1,-0.45H1V0.45H-1Z", "M-0.8,-0.06H0.8V0.06H-0.8ZM0.33,0A0.33,0.33 0 1,1 -0.33,0A0.33,0.33 0 1,1 0.33,0Z"]}, "legend": {"title": null, "orient": "none", "direction": "horizontal", "legendX": 62, "legendY": 15, "labelFontSize": 15, "symbolSize": 1024, "symbolStrokeWidth": 0, "symbolOpacity": 1, "labelOffset": 4, "columnPadding": 3}}
                      }
                    }
                  ],
                  "resolve": {"scale": {"y": "independent"}, "axis": {"y": "independent"}}
                },
                {
                  "width": 621,
                  "height": 378,
                  "view": {"fill": "#ffffff", "stroke": "#eef3fa", "cornerRadius": 14},
                  "data": {"name": "daily"},
                  "layer": [
                    {
                      "mark": {"type": "bar", "color": "#6cc785"},
                      "encoding": {
                        "x": {"field": "day", "type": "ordinal", "scale": {"type": "band", "range": [60, 563], "paddingInner": 0.17, "paddingOuter": 0.08, "domain": ["Aug 8", "Aug 9", "Aug 10", "Aug 11", "Aug 12", "Aug 13", "Aug 14", "Aug 15", "Aug 16", "Aug 17", "Aug 18", "Aug 19", "Aug 20", "Aug 21", "Aug 22", "Aug 23", "Aug 24", "Aug 25", "Aug 26", "Aug 27", "Aug 28", "Aug 29", "Aug 30", "Aug 31", "Sep 1", "Sep 2", "Sep 3", "Sep 4", "Sep 5", "Sep 6"]}, "axis": {"values": ["Aug 8", "Aug 12", "Aug 16", "Aug 20", "Aug 24", "Aug 28", "Sep 1", "Sep 5"], "labelExpr": "indexof(['Aug 12', 'Aug 20', 'Aug 28', 'Sep 5'], datum.label) >= 0 ? ['', datum.label] : datum.label", "labelLineHeight": 22, "offset": -69, "domain": true, "domainColor": "#d9d9d9", "domainWidth": 1.5, "labelAngle": 0, "labelFontSize": 16, "labelPadding": 8, "labelOverlap": false}},
                        "y": {"field": "link_clicks", "type": "quantitative", "scale": {"domain": [0, 15000], "range": [309, 60], "nice": false}, "axis": {"values": [0, 5000, 10000, 15000], "labelExpr": "datum.value == 0 ? '0' : datum.value / 1000 + 'K'", "offset": -45, "labelPadding": 0, "labelFontSize": 16}}
                      }
                    },
                    {
                      "mark": {"type": "line", "strokeWidth": 2, "color": "#8e24aa", "point": {"filled": true, "size": 55, "color": "#8e24aa"}},
                      "encoding": {
                        "x": {"field": "day", "type": "ordinal"},
                        "y": {"field": "cpc", "type": "quantitative", "scale": {"domain": [0, 0.02], "range": [309, 60], "nice": false}, "axis": {"orient": "right", "values": [0, 0.01, 0.02], "labelExpr": "'' + datum.value", "offset": -43, "labelPadding": 0, "labelFontSize": 16}}
                      }
                    },
                    {
                      "data": {"values": [{"series": "Link clicks"}, {"series": "CPC"}]},
                      "mark": {"type": "point", "filled": true, "opacity": 0},
                      "encoding": {
                        "color": {"field": "series", "type": "nominal", "scale": {"domain": ["Link clicks", "CPC"], "range": ["#6cc785", "#8e24aa"]}, "legend": {"title": null, "orient": "none", "direction": "horizontal", "legendX": 62, "legendY": 15, "labelFontSize": 15, "symbolSize": 1024, "symbolStrokeWidth": 0, "symbolOpacity": 1, "labelOffset": 4, "columnPadding": 3}},
                        "shape": {"field": "series", "type": "nominal", "scale": {"domain": ["Link clicks", "CPC"], "range": ["M-1,-0.45H1V0.45H-1Z", "M-0.8,-0.06H0.8V0.06H-0.8ZM0.33,0A0.33,0.33 0 1,1 -0.33,0A0.33,0.33 0 1,1 0.33,0Z"]}, "legend": {"title": null, "orient": "none", "direction": "horizontal", "legendX": 62, "legendY": 15, "labelFontSize": 15, "symbolSize": 1024, "symbolStrokeWidth": 0, "symbolOpacity": 1, "labelOffset": 4, "columnPadding": 3}}
                      }
                    }
                  ],
                  "resolve": {"scale": {"y": "independent"}, "axis": {"y": "independent"}}
                },
                {
                  "width": 621,
                  "height": 378,
                  "view": {"fill": "#ffffff", "stroke": "#eef3fa", "cornerRadius": 14},
                  "data": {"name": "daily"},
                  "layer": [
                    {
                      "mark": {"type": "bar", "color": "#5c6bc0"},
                      "encoding": {
                        "x": {"field": "day", "type": "ordinal", "scale": {"type": "band", "range": [60, 559], "paddingInner": 0.17, "paddingOuter": 0.08, "domain": ["Aug 8", "Aug 9", "Aug 10", "Aug 11", "Aug 12", "Aug 13", "Aug 14", "Aug 15", "Aug 16", "Aug 17", "Aug 18", "Aug 19", "Aug 20", "Aug 21", "Aug 22", "Aug 23", "Aug 24", "Aug 25", "Aug 26", "Aug 27", "Aug 28", "Aug 29", "Aug 30", "Aug 31", "Sep 1", "Sep 2", "Sep 3", "Sep 4", "Sep 5", "Sep 6"]}, "axis": {"values": ["Aug 8", "Aug 12", "Aug 16", "Aug 20", "Aug 24", "Aug 28", "Sep 1", "Sep 5"], "labelExpr": "indexof(['Aug 12', 'Aug 20', 'Aug 28', 'Sep 5'], datum.label) >= 0 ? ['', datum.label] : datum.label", "labelLineHeight": 22, "offset": -69, "domain": true, "domainColor": "#d9d9d9", "domainWidth": 1.5, "labelAngle": 0, "labelFontSize": 16, "labelPadding": 8, "labelOverlap": false}},
                        "y": {"field": "leads", "type": "quantitative", "scale": {"domain": [0, 60], "range": [309, 60], "nice": false}, "axis": {"values": [0, 20, 40, 60], "offset": -44, "labelPadding": 0, "labelFontSize": 16}}
                      }
                    },
                    {
                      "mark": {"type": "line", "strokeWidth": 2, "color": "#4caf50", "point": {"filled": true, "size": 55, "color": "#4caf50"}},
                      "encoding": {
                        "x": {"field": "day", "type": "ordinal"},
                        "y": {"field": "cpl", "type": "quantitative", "scale": {"domain": [0, 1], "range": [309, 60], "nice": false}, "axis": {"orient": "right", "values": [0, 0.25, 0.5, 0.75, 1], "labelExpr": "'' + datum.value", "offset": -46, "labelPadding": 0, "labelFontSize": 16}}
                      }
                    },
                    {
                      "data": {"values": [{"series": "Leads"}, {"series": "CPL"}]},
                      "mark": {"type": "point", "filled": true, "opacity": 0},
                      "encoding": {
                        "color": {"field": "series", "type": "nominal", "scale": {"domain": ["Leads", "CPL"], "range": ["#5c6bc0", "#4caf50"]}, "legend": {"title": null, "orient": "none", "direction": "horizontal", "legendX": 62, "legendY": 15, "labelFontSize": 15, "symbolSize": 1024, "symbolStrokeWidth": 0, "symbolOpacity": 1, "labelOffset": 4, "columnPadding": 3}},
                        "shape": {"field": "series", "type": "nominal", "scale": {"domain": ["Leads", "CPL"], "range": ["M-1,-0.45H1V0.45H-1Z", "M-0.8,-0.06H0.8V0.06H-0.8ZM0.33,0A0.33,0.33 0 1,1 -0.33,0A0.33,0.33 0 1,1 0.33,0Z"]}, "legend": {"title": null, "orient": "none", "direction": "horizontal", "legendX": 62, "legendY": 15, "labelFontSize": 15, "symbolSize": 1024, "symbolStrokeWidth": 0, "symbolOpacity": 1, "labelOffset": 4, "columnPadding": 3}}
                      }
                    }
                  ],
                  "resolve": {"scale": {"y": "independent"}, "axis": {"y": "independent"}}
                }
              ],
              "spacing": 21
            }
          ],
          "spacing": 0
        },
        {
          "width": 27,
          "height": 1133,
          "view": {"fill": "#eeeeee", "stroke": null},
          "data": {"values": [{"s": ""}]},
          "mark": {"type": "text", "fontSize": 1},
          "encoding": {"text": {"field": "s"}}
        }
      ],
      "spacing": 22.5
    }
  ],
  "spacing": 0
}
